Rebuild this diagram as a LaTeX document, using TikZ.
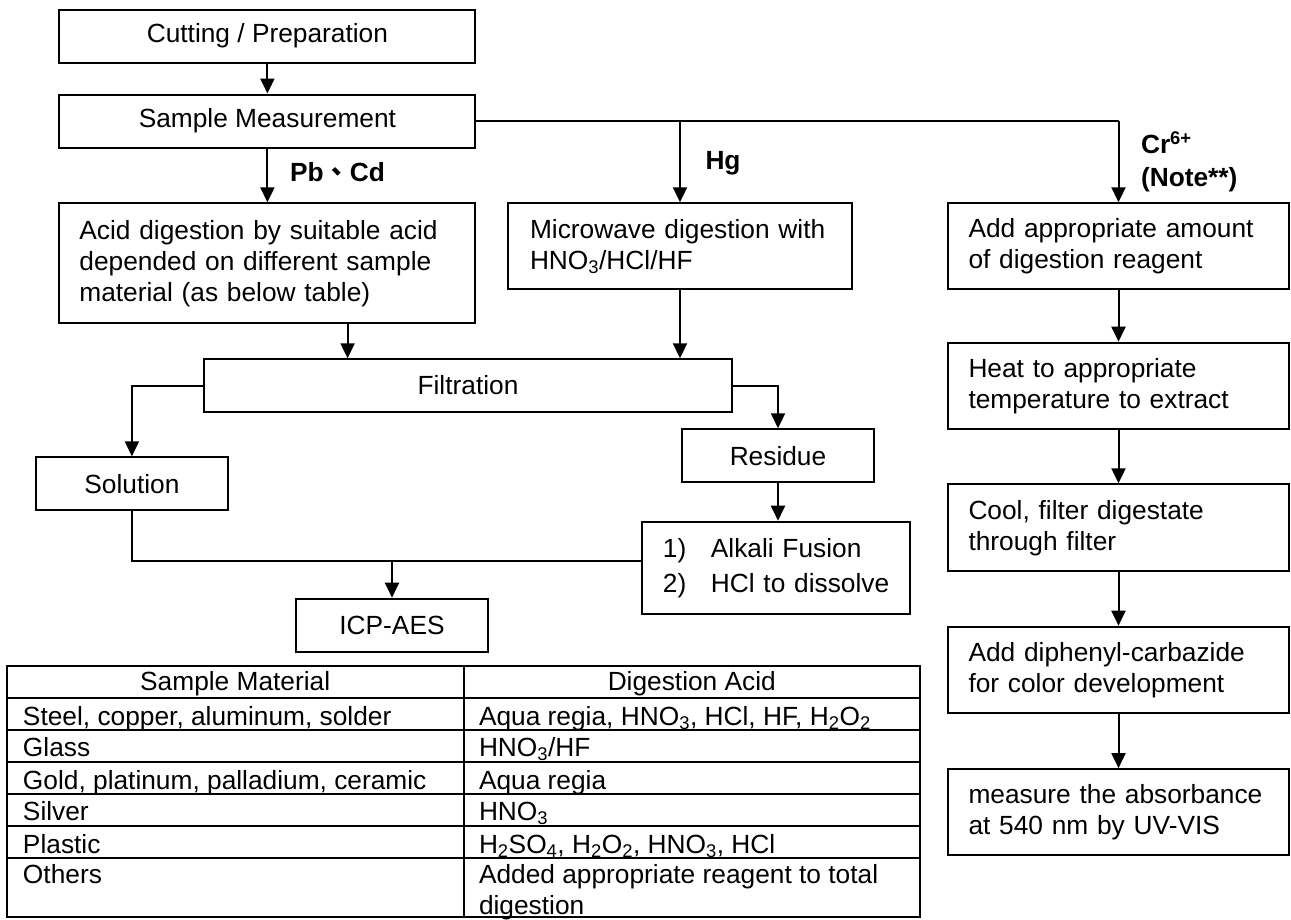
\documentclass[tikz,border=0pt]{standalone}
\usepackage{fontspec}
\setmainfont{Liberation Sans}
\newfontfamily\cjk{Noto Sans CJK TC}
\usetikzlibrary{arrows.meta}
\begin{document}
\begin{tikzpicture}[x=1pt,y=-1pt,line width=2pt,
  every node/.style={font=\fontsize{26.3}{31}\selectfont},
  box/.style={draw,line width=2pt,inner sep=0pt},
  lbox/.style={draw,line width=2pt,inner ysep=0pt,inner xsep=#1,align=left},
  arr/.style={-{Triangle[length=15pt,width=14pt]}},
  lbl/.style={font=\fontsize{26.3}{33}\selectfont\bfseries,inner sep=0pt,anchor=west,align=left},
  cell/.style={inner sep=0pt,anchor=base west,align=left,font=\fontsize{26.3}{31.2}\selectfont}]
\useasboundingbox (0,0) rectangle (1291,919);
% left / middle flow
\node[box,minimum width=416pt,minimum height=53pt] (cut) at (267.4,36) {Cutting / Preparation};
\node[box,minimum width=416pt,minimum height=53pt] (samp) at (267.4,121) {Sample Measurement};
\node[lbox=20pt,text width=376pt,minimum height=120pt] (acid) at (267.4,263.3)
  {Acid digestion by suitable acid\\depended on different sample\\material (as below table)};
\node[lbox=22pt,text width=300pt,minimum height=86pt] (micro) at (680,246.3)
  {Microwave digestion with\\HNO\textsubscript{3}/HCl/HF};
\node[box,minimum width=528pt,minimum height=52.4pt] (filt) at (468,385.5) {Filtration};
\node[box,minimum width=192pt,minimum height=52.7pt] (sol) at (131.9,483.7) {Solution};
\node[box,minimum width=192.6pt,minimum height=53pt] (res) at (778,455.8) {Residue};
\node[lbox=21pt,text width=226pt,minimum height=92.6pt,font=\fontsize{26.3}{35}\selectfont] (alk) at (775.9,568)
  {\mbox{\makebox[48pt][l]{1)}Alkali Fusion}\\\mbox{\makebox[48pt][l]{2)}HCl to dissolve}};
\node[box,minimum width=192pt,minimum height=53pt] (icp) at (392,625.2) {ICP-AES};
% right column
\node[lbox=20.5pt,text width=300pt,minimum height=86pt] (cr1) at (1118.5,246.3)
  {Add appropriate amount\\of digestion reagent};
\node[lbox=20.5pt,text width=300pt,minimum height=86.6pt] (heat) at (1118.5,386)
  {Heat to appropriate\\temperature to extract};
\node[lbox=20.5pt,text width=300pt,minimum height=86.7pt] (cool) at (1118.5,527.7)
  {Cool, filter digestate\\through filter};
\node[lbox=20.5pt,text width=300pt,minimum height=86pt] (diph) at (1118.5,669.7)
  {Add diphenyl-carbazide\\for color development};
\node[lbox=20.5pt,text width=300pt,minimum height=85.7pt] (meas) at (1118.5,812)
  {measure the absorbance\\at 540 nm by UV-VIS};
% labels
\node[lbl] (lpb) at (289,172) {Pb{\cjk 、}Cd};
\node[lbl] (lhg) at (704.5,163) {Hg};
\node[lbl] (lcr) at (1140,161.5) {Cr\textsuperscript{6+}\\(Note**)};
% connectors
\draw[arr] (cut.south) -- (cut.south |- samp.north);
\draw[arr] (samp.south) -- (samp.south |- acid.north);
\coordinate (crtop) at (cr1.north |- samp.east);
\coordinate (hgtop) at (micro.north |- samp.east);
\draw (samp.east) -- (crtop);
\draw[arr] (hgtop) -- (micro.north);
\draw[arr] (crtop) -- (cr1.north);
\coordinate (acidout) at ([xshift=80.2pt]acid.south);
\draw[arr] (acidout) -- (acidout |- filt.north);
\draw[arr] (micro.south) -- (micro.south |- filt.north);
\draw[arr] (filt.west) -| (sol.north);
\draw[arr] (filt.east) -| (res.north);
\draw[arr] (res.south) -- (res.south |- alk.north);
\coordinate (alkin) at ([yshift=7.3pt]alk.west);
\draw (sol.south) |- (alkin);
\coordinate (j) at (icp.north |- alkin);
\draw[arr] (j) -- (icp.north);
\draw[arr] (cr1.south) -- (heat.north);
\draw[arr] (heat.south) -- (cool.north);
\draw[arr] (cool.south) -- (diph.north);
\draw[arr] (diph.south) -- (meas.north);
% table
\draw (7,666) rectangle (920,917);
\draw (463.5,666) -- (463.5,917);
\foreach \yy in {697.7,730,761.7,794,825.7,858.3} \draw (7,\yy) -- (920,\yy);
\node[cell,anchor=base] (h1) at (235.2,690) {Sample Material};
\node[cell,anchor=base] (h2) at (691.8,690) {Digestion Acid};
\node[cell] (a1) at (22,725) {Steel, copper, aluminum, solder};
\node[cell] (a2) at (22,756.7) {Glass};
\node[cell] (a3) at (22,789) {Gold, platinum, palladium, ceramic};
\node[cell] (a4) at (22,820.7) {Silver};
\node[cell] (a5) at (22,853) {Plastic};
\node[cell] (a6) at (22,883) {Others};
\node[cell] (b1) at (478,725) {Aqua regia, HNO\textsubscript{3}, HCl, HF, H\textsubscript{2}O\textsubscript{2}};
\node[cell] (b2) at (478,756.7) {HNO\textsubscript{3}/HF};
\node[cell] (b3) at (478,789) {Aqua regia};
\node[cell] (b4) at (478,820.7) {HNO\textsubscript{3}};
\node[cell] (b5) at (478,853) {H\textsubscript{2}SO\textsubscript{4}, H\textsubscript{2}O\textsubscript{2}, HNO\textsubscript{3}, HCl};
\node[cell] (b6) at (478,883) {Added appropriate reagent to total};
\node[cell] (b7) at (478,914.2) {digestion};
\end{tikzpicture}
\end{document}
